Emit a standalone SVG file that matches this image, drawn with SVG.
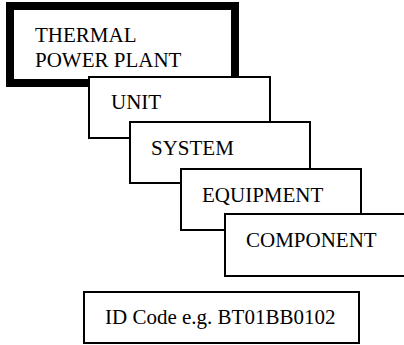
<svg xmlns="http://www.w3.org/2000/svg" width="404" height="345" viewBox="0 0 404 345">
<style>
.b{fill:#fff;stroke:#000;stroke-width:2}
.t{font-family:"Liberation Serif","Times New Roman",serif;font-size:21px;fill:#000}
</style>
<rect width="404" height="345" fill="#fff"/>
<g id="plant"><rect x="10" y="6" width="225" height="77" fill="#fff" stroke="#000" stroke-width="8"/><text class="t" x="35" y="42">THERMAL</text><text class="t" x="35" y="67">POWER PLANT</text></g>
<g id="unit"><rect class="b" x="89" y="77" width="181" height="61"/><text class="t" x="111" y="109">UNIT</text></g>
<g id="system"><rect class="b" x="130" y="122" width="180" height="61"/><text class="t" x="151" y="155">SYSTEM</text></g>
<g id="equipment"><rect class="b" x="181" y="169" width="180" height="61"/><text class="t" x="202" y="202">EQUIPMENT</text></g>
<g id="component"><rect class="b" x="225" y="214" width="185" height="62"/><text class="t" x="246" y="247">COMPONENT</text></g>
<g id="idcode"><rect class="b" x="84" y="292" width="275" height="51"/><text class="t" x="105" y="324">ID Code e.g. BT01BB0102</text></g>
<g id="connectors"></g>
</svg>
